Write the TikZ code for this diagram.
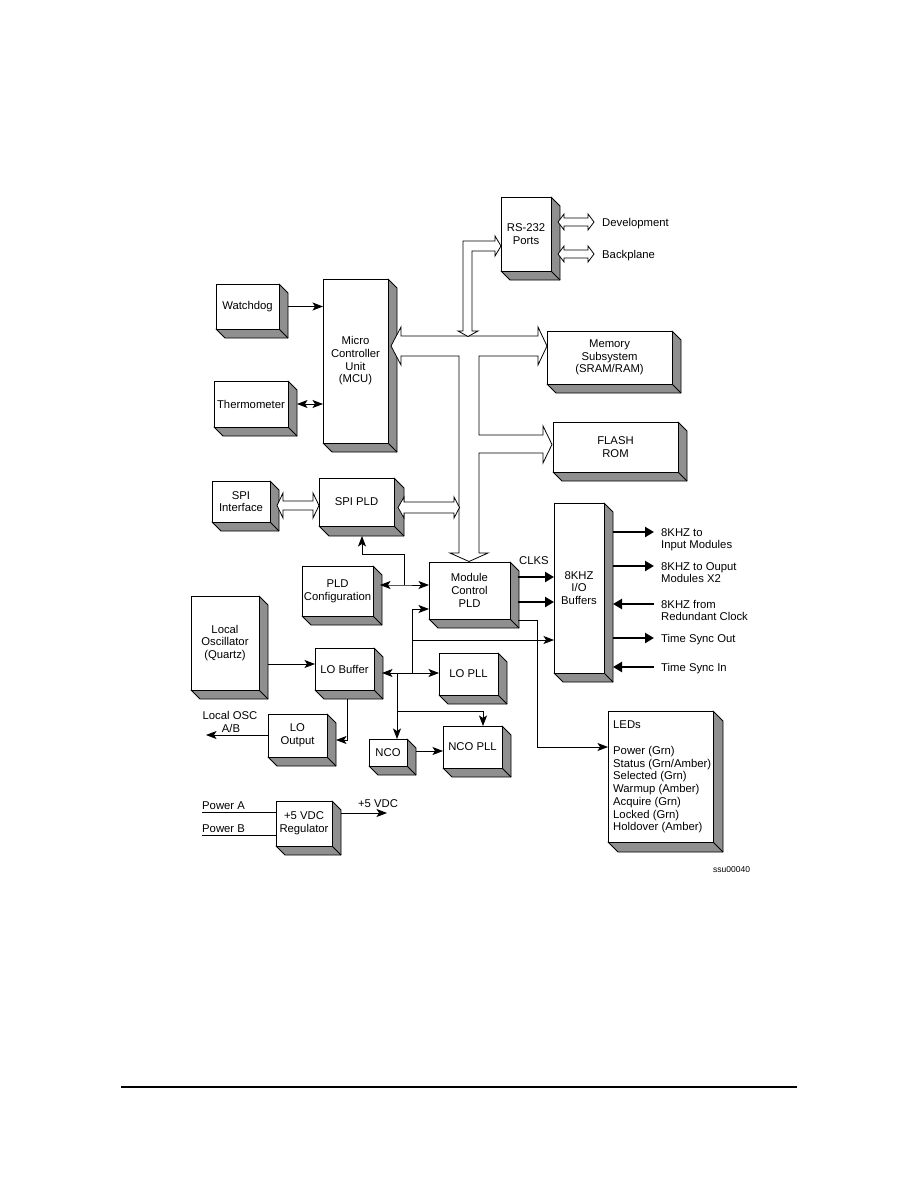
\documentclass[tikz,border=0pt]{standalone}
\usepackage{fontspec}
\setmainfont{Liberation Sans}
\usetikzlibrary{arrows.meta}
\definecolor{sidegray}{gray}{0.56}
\tikzset{
  basefont/.style={font=\fontsize{11.3}{12.7}\selectfont},
  box/.style={draw,fill=white,line width=0.8pt,inner sep=0pt,outer sep=0pt,align=center,basefont},
  side/.style={fill=sidegray,draw,line width=0.8pt,line join=round},
  tipa/.tip={Stealth[length=10.5pt,width=8pt,inset=2.5pt]},
  arr/.style={line width=0.8pt,-tipa},
  darr/.style={line width=0.8pt,tipa-tipa},
  tarr/.style={line width=2.8pt,-{Triangle[length=9pt,width=10pt]}},
  hollow/.style={draw,fill=white,line width=0.8pt,line join=miter},
  lbl/.style={basefont,inner sep=0pt},
  wire/.style={line width=0.8pt},
}
% name, x1, y1, x2, y2, depth, text
\newcommand\bx[7]{%
  \path[side] (#4,#3) -- (#4+#6,#3+#6) -- (#4+#6,#5+#6) -- (#2+#6,#5+#6) -- (#2,#5) -- (#4,#5) -- cycle;
  \draw[line width=0.8pt] (#4,#5) -- (#4+#6,#5+#6);
  \node[box,minimum width={#4-#2},minimum height={#5-#3}] (#1) at ({(#2+#4)/2},{(#3+#5)/2}) {#7};
}
\begin{document}
\begin{tikzpicture}[x=1pt,y=-1pt]
\useasboundingbox[fill=white] (0,0) rectangle (918,1188);

% boxes
\bx{wd}{216}{284}{279}{329}{9}{Watchdog}
\bx{mcu}{323}{279}{388}{443}{9}{Micro\\Controller\\Unit\\(MCU)}
\bx{th}{214}{381}{288}{427}{9}{Thermometer}
\bx{rs}{501}{197}{551}{271}{9}{RS-232\\Ports}
\bx{mem}{547}{331}{672}{384}{9}{Memory\\Subsystem\\(SRAM/RAM)}
\bx{fl}{553}{422}{678}{472}{9}{FLASH\\ROM}
\bx{spii}{212}{481}{270}{522}{9}{SPI\\Interface}
\bx{spld}{319}{478}{394}{526}{10}{SPI PLD}
\bx{pld}{302}{566}{373}{616}{9}{PLD\\Configuration}
\bx{mcp}{429}{562}{510}{619}{9}{Module\\Control\\PLD}
\bx{io}{554}{503}{604}{673}{9}{8KHZ\\I/O\\Buffers}
\bx{osc}{191}{596}{259}{690}{9}{Local\\Oscillator\\(Quartz)}
\bx{lob}{315}{648}{374}{690}{9}{LO Buffer}
\bx{lopll}{439}{653}{498}{695}{9}{LO PLL}
\bx{lout}{268}{714}{327}{757}{9}{LO\\Output}
\bx{nco}{369}{739}{407}{766}{9}{NCO}
\bx{ncopll}{443}{726}{502}{768}{9}{NCO PLL}
\bx{reg}{276}{801}{332}{846}{9}{+5 VDC\\Regulator}
\bx{led}{608}{711}{713}{842}{10}{}

% hollow buses
\draw[hollow] (391,346) -- (401,327) -- (401,336) -- (538,336) -- (538,327) -- (547,346) -- (538,365) -- (538,356)
  -- (479,356) -- (479,435) -- (543,435) -- (543,426) -- (552,444.5) -- (543,463) -- (543,453) -- (479,453)
  -- (479,553) -- (488,553) -- (469,561.5) -- (450,553) -- (459,553) -- (459,356) -- (401,356) -- (401,365) -- cycle;
\draw[hollow] (463,331) -- (463,241) -- (495,241) -- (495,236) -- (501,246) -- (495,256) -- (495,251) -- (472,251)
  -- (472,331) -- (478,331) -- (468,336.5) -- (458,331) -- cycle;
\draw[hollow] (558,222) -- (564,214) -- (564,218) -- (588,218) -- (588,214) -- (594,222) -- (588,230) -- (588,226) -- (564,226) -- (564,230) -- cycle;
\draw[hollow] (558,254) -- (564,246) -- (564,250) -- (588,250) -- (588,246) -- (594,254) -- (588,262) -- (588,258) -- (564,258) -- (564,262) -- cycle;
\draw[hollow] (277,505.5) -- (283,493) -- (283,501) -- (313,501) -- (313,493) -- (319,505.5) -- (313,518) -- (313,510) -- (283,510) -- (283,518) -- cycle;
\draw[hollow] (398,507.5) -- (404,497) -- (404,502) -- (454,502) -- (454,497) -- (459.5,507.5) -- (454,518) -- (454,513) -- (404,513) -- (404,518) -- cycle;

% thin connectors
\coordinate (j1) at (404,585);
\coordinate (j2) at (412,673);
\coordinate (j3) at (397,673);
\draw[arr] ([xshift=9pt]wd.east) -- (wd.east -| mcu.west);
\draw[darr] ([xshift=9pt]th.east) -- (th.east -| mcu.west);
\draw[darr] (380,585) -- (j1) -- (429,585);
\draw[arr] (j1) -- (404,554) -- (362,554) -- (362,536);
\draw[arr] (268,664) -- (315,664);
\draw[darr] (382,673) -- (439,673);
\draw[arr] (j2) -- (412,609) -- (429,609);
\draw[arr] (412,640) -- (554,640);
\draw[arr] (j3) -- (397,739);
\draw[arr] (397,711) -- (483,711) -- (483,726);
\draw[arr] (416,751) -- (443,751);
\draw[arr] (347,699) -- (347,740) -- (336,740);
\draw[arr] (268,735) -- (206,735);
\draw[arr] (518,620) -- (537,620) -- (537,747) -- (608,747);
\draw[wire] (202,812) -- (276,812);
\draw[wire] (202,835) -- (276,835);
\draw[arr] (341,813) -- (387,813);

% thick connectors
\draw[tarr] (518,577) -- (554,577);
\draw[tarr] (518,602) -- (554,602);
\foreach \yy in {532,566,638} \draw[tarr] (613,\yy) -- (654,\yy);
\foreach \yy in {604,667} \draw[tarr] (654,\yy) -- (613,\yy);

% labels
\node[lbl,anchor=base west] (ldev) at (602,226) {Development};
\node[lbl,anchor=base west] (lback) at (602,258) {Backplane};
\node[lbl,anchor=base] (lclk) at (534,564) {CLKS};
\node[lbl,anchor=base west] (l1a) at (661,536) {8KHZ to};
\node[lbl,anchor=base west] (l1b) at (661,548.5) {Input Modules};
\node[lbl,anchor=base west] (l2a) at (661,570) {8KHZ to Ouput};
\node[lbl,anchor=base west] (l2b) at (661,582.5) {Modules X2};
\node[lbl,anchor=base west] (l3a) at (661,608) {8KHZ from};
\node[lbl,anchor=base west] (l3b) at (661,620.5) {Redundant Clock};
\node[lbl,anchor=base west] (l4) at (661,642) {Time Sync Out};
\node[lbl,anchor=base west] (l5) at (661,671) {Time Sync In};
\node[lbl,anchor=base] (losc1) at (230,719) {Local OSC};
\node[lbl,anchor=base] (losc2) at (231,732) {A/B};
\node[lbl,anchor=base] (lvdc) at (378,807) {+5 VDC};
\node[lbl,anchor=base west] (lpa) at (202,809) {Power A};
\node[lbl,anchor=base west] (lpb) at (202,832) {Power B};
\node[lbl,anchor=base west] (lleds) at (613,728) {LEDs};
\node[lbl,anchor=base west] (le1) at (613,754) {Power (Grn)};
\node[lbl,anchor=base west] (le2) at (613,767) {Status (Grn/Amber)};
\node[lbl,anchor=base west] (le3) at (613,779) {Selected (Grn)};
\node[lbl,anchor=base west] (le4) at (613,792) {Warmup (Amber)};
\node[lbl,anchor=base west] (le5) at (613,805) {Acquire (Grn)};
\node[lbl,anchor=base west] (le6) at (613,818) {Locked (Grn)};
\node[lbl,anchor=base west] (le7) at (613,830) {Holdover (Amber)};
\node[inner sep=0pt,anchor=base west,font=\fontsize{8.5}{10}\selectfont] (lssu) at (713,872) {ssu00040};

% footer rule
\draw[line width=1.2pt] (121,1087) -- (797,1087);
\end{tikzpicture}
\end{document}
